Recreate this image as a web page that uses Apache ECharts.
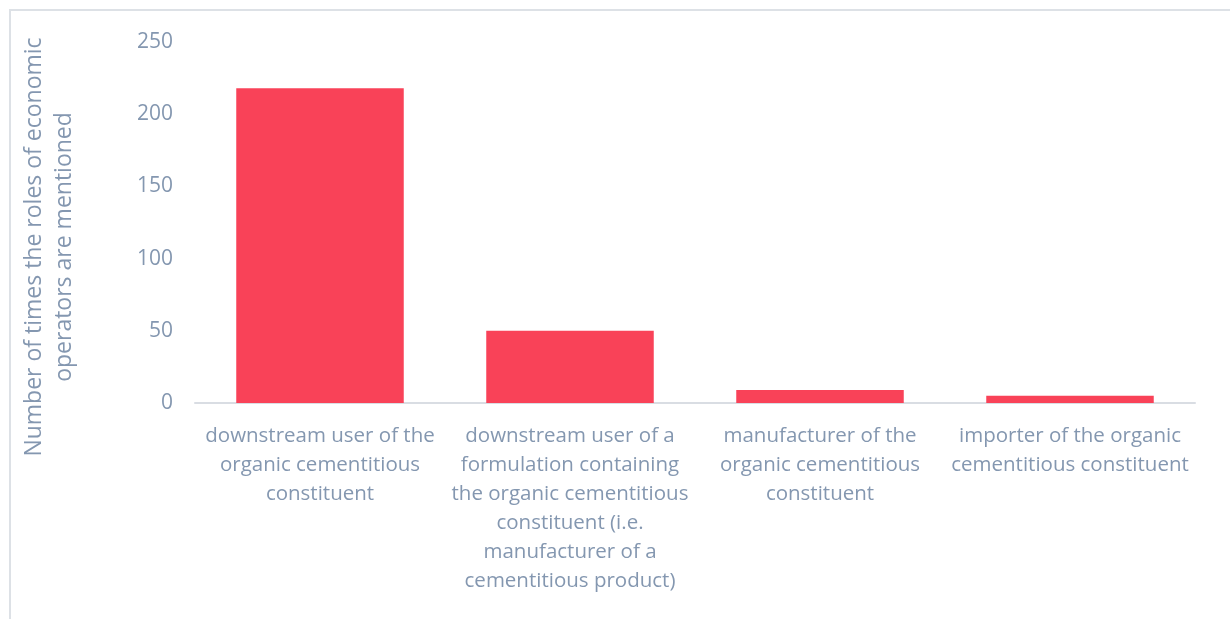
<!DOCTYPE html>
<html><head><meta charset="utf-8">
<script src="https://cdn.jsdelivr.net/npm/echarts@6/dist/echarts.min.js"></script>
<style>html,body{margin:0;padding:0;background:#fff}#c{width:1230px;height:619px}</style>
</head><body><div id="c"></div>
<script>
const categories = [
  "downstream user of the\norganic cementitious\nconstituent",
  "downstream user of a\nformulation containing\nthe organic cementitious\nconstituent (i.e.\nmanufacturer of a\ncementitious product)",
  "manufacturer of the\norganic cementitious\nconstituent",
  "importer of the organic\ncementitious constituent"
];
const values = [218, 50, 9, 5];
const yTicks = [0, 50, 100, 150, 200, 250];
const yTitle = "Number of times the roles of economic\noperators are mentioned";

const font = "'Open Sans'";
const txt = "#8497b0";
const chart = echarts.init(document.getElementById('c'));
chart.setOption({
  animation: false,
  graphic: [
    {type:'rect', shape:{x:10,y:10,width:1240,height:640}, style:{fill:'none', stroke:'#dde1e6', lineWidth:2}, silent:true},
    {type:'text', x:49, y:247, rotation:Math.PI/2, style:{text:yTitle, fill:txt, font:'23px ' + font, align:'center', verticalAlign:'middle', lineHeight:30}}
  ],
  grid: {left:195, right:35, top:42, bottom:216},
  xAxis: {
    type:'category', data:categories,
    axisLine:{lineStyle:{color:'#d9dde3', width:2}},
    axisTick:{show:false},
    axisLabel:{color:txt, fontFamily:font, fontSize:20.5, lineHeight:29, margin:19, interval:0}
  },
  yAxis: {
    type:'value', min:yTicks[0], max:yTicks[yTicks.length-1], interval:50,
    axisLine:{show:false}, axisTick:{show:false}, splitLine:{show:false},
    axisLabel:{color:txt, fontFamily:font, fontSize:21, margin:22}
  },
  series: [{type:'bar', data:values, barWidth:'67%', itemStyle:{color:'#f94258'}}]
});
</script></body></html>
